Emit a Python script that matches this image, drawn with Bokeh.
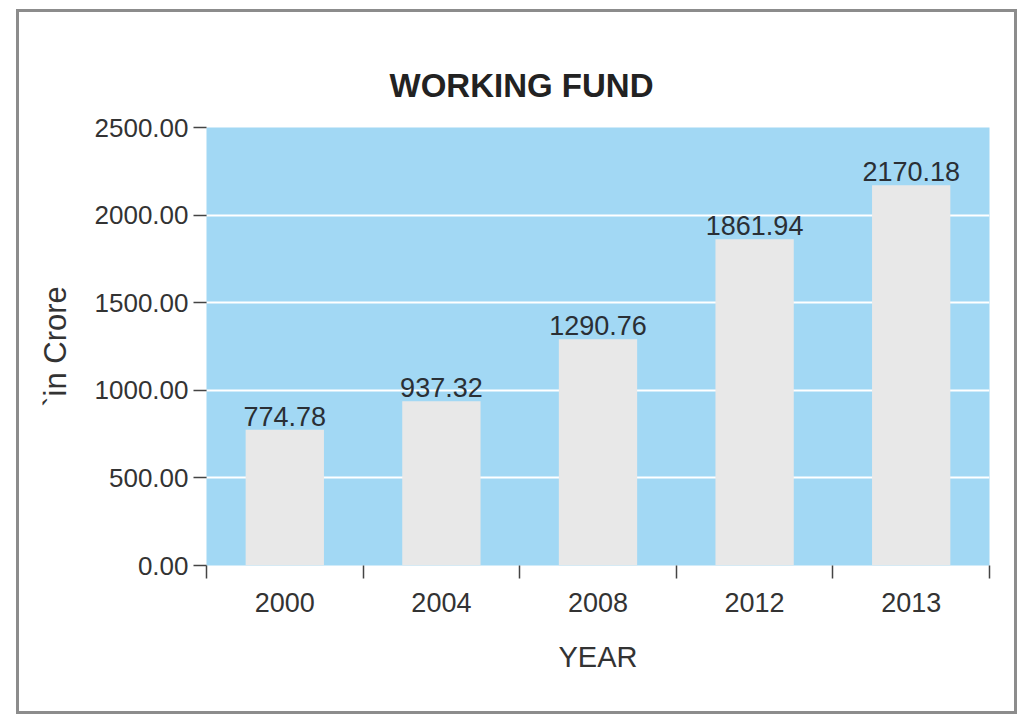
from bokeh.plotting import figure
from bokeh.models import FixedTicker, Title, ColumnDataSource
from bokeh.core.properties import value
from bokeh.embed import file_html
from bokeh.resources import INLINE

years = ["2000", "2004", "2008", "2012", "2013"]
values = [774.78, 937.32, 1290.76, 1861.94, 2170.18]
value_labels = ["774.78", "937.32", "1290.76", "1861.94", "2170.18"]
y_ticks = [0, 500, 1000, 1500, 2000, 2500]

centers = [i + 0.5 for i in range(len(years))]
boundaries = list(range(len(years) + 1))

src = ColumnDataSource(dict(x=centers, top=values, label=value_labels))

FONT = "Liberation Sans"
TXT = "#333333"

p = figure(width=1001, height=705, output_backend="svg", toolbar_location=None,
           x_range=(0, len(years)), y_range=(0, 2500),
           min_border_left=187, min_border_right=31, min_border_top=115, min_border_bottom=152)
p.styles = {"margin-left": "16px", "margin-top": "9px", "margin-bottom": "-10px",
            "border": "3px solid #8c8c8c", "box-sizing": "border-box"}

p.title = Title(text="WORKING FUND", align="left", offset=183, text_font=FONT,
                text_font_size="33px", text_font_style="bold", text_color="#222222", standoff=48)

p.background_fill_color = "#a2d8f4"
p.border_fill_color = "white"
p.outline_line_color = None

p.vbar(x="x", top="top", width=0.5, bottom=0, source=src, fill_color="#e8e8e8", line_color=None)
p.text(x="x", y="top", text="label", source=src, text_align="center", text_baseline="bottom",
       y_offset=-4, text_font=value(FONT), text_font_size="27px", text_color="#2a2f35")

# x axis
p.xaxis.ticker = FixedTicker(ticks=centers, minor_ticks=boundaries)
p.xaxis.major_label_overrides = {c: y for c, y in zip(centers, years)}
p.xaxis.major_tick_out = 0
p.xaxis.major_tick_in = 0
p.xaxis.minor_tick_out = 13
p.xaxis.minor_tick_in = 0
p.xaxis.minor_tick_line_color = "#444444"
p.xaxis.minor_tick_line_width = 1.5
p.xaxis.axis_line_color = None
p.xaxis.major_label_standoff = 14
p.xaxis.major_label_text_font = FONT
p.xaxis.major_label_text_font_size = "27px"
p.xaxis.major_label_text_color = TXT
p.xaxis.axis_label = "YEAR"
p.xaxis.axis_label_text_font = FONT
p.xaxis.axis_label_text_font_size = "29px"
p.xaxis.axis_label_text_font_style = "normal"
p.xaxis.axis_label_text_color = TXT
p.xaxis.axis_label_standoff = 26

# y axis
p.yaxis.ticker = FixedTicker(ticks=y_ticks)
p.yaxis.major_label_overrides = {t: f"{t:.2f}" for t in y_ticks}
p.yaxis.major_tick_out = 13
p.yaxis.major_tick_in = 0
p.yaxis.major_tick_line_color = "#444444"
p.yaxis.major_tick_line_width = 1.5
p.yaxis.minor_tick_line_color = None
p.yaxis.axis_line_color = None
p.yaxis.major_label_standoff = 5
p.yaxis.major_label_text_font = FONT
p.yaxis.major_label_text_font_size = "26px"
p.yaxis.major_label_text_color = TXT
p.yaxis.axis_label = "`in Crore"
p.yaxis.axis_label_text_font = FONT
p.yaxis.axis_label_text_font_size = "31px"
p.yaxis.axis_label_text_font_style = "normal"
p.yaxis.axis_label_text_color = TXT
p.yaxis.axis_label_standoff = 19

p.xgrid.grid_line_color = None
p.ygrid.grid_line_color = "white"
p.ygrid.grid_line_width = 2

open("out.html", "w").write(file_html(p, INLINE))
